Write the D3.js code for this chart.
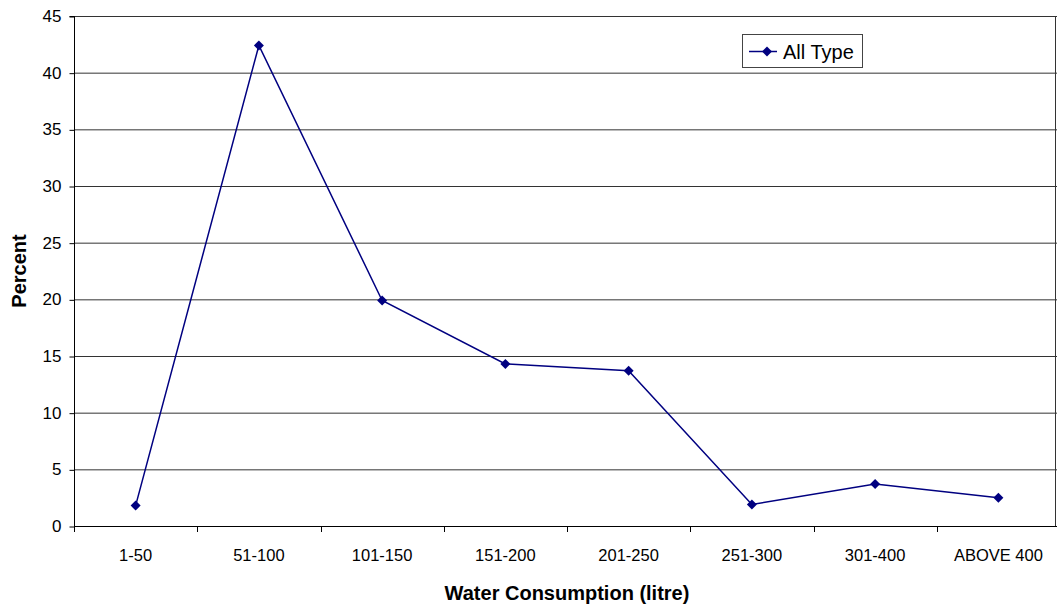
<!DOCTYPE html>
<html>
<head>
<meta charset="utf-8">
<script src="https://cdn.jsdelivr.net/npm/d3@7"></script>
<style>
  body { margin: 0; background: #fff; }
  svg { display: block; font-family: "Liberation Sans", Arial, sans-serif; }
</style>
</head>
<body>
<div id="chart"></div>
<script>
// --- data ---
const categories = ["1-50", "51-100", "101-150", "151-200", "201-250", "251-300", "301-400", "ABOVE 400"];
const percentValues = [1.8, 42.4, 19.9, 14.3, 13.7, 1.9, 3.7, 2.5];
const yTicks = [0, 5, 10, 15, 20, 25, 30, 35, 40, 45];
const seriesName = "All Type";

// --- layout ---
const W = 1057, H = 613;
const M = { top: 16, right: -3, bottom: 87, left: 74 };
const innerW = W - M.left - M.right;
const innerH = H - M.top - M.bottom;
const LINE_COLOR = "#000080";

const svg = d3.select("#chart").append("svg")
    .attr("width", W)
    .attr("height", H);

const g = svg.append("g")
    .attr("transform", `translate(${M.left},${M.top})`);

const x = d3.scaleBand()
    .domain(categories)
    .range([0, innerW])
    .padding(0);

const y = d3.scaleLinear()
    .domain([0, 45])
    .range([innerH, 0]);

// gridlines
g.selectAll("line.grid")
    .data(yTicks.filter(d => d > 0))
    .join("line")
    .attr("class", "grid")
    .attr("x1", 0)
    .attr("x2", innerW)
    .attr("y1", d => y(d) + 0.5)
    .attr("y2", d => y(d) + 0.5)
    .attr("stroke", "#333")
    .attr("stroke-width", 1);

// right border of the plot area (visible at image edge)
g.append("line")
    .attr("x1", W - M.left - 1.5)
    .attr("x2", W - M.left - 1.5)
    .attr("y1", y(45))
    .attr("y2", innerH)
    .attr("stroke", "#333");

// y axis
const yAxis = d3.axisLeft(y)
    .tickValues(yTicks)
    .tickSize(5)
    .tickPadding(8)
    .tickFormat(d3.format("d"));

const yG = g.append("g")
    .attr("transform", "translate(0.5,0)")
    .call(yAxis);
yG.select(".domain").attr("stroke", "#000").attr("d", `M-5,${y(45) + 0.5}H0V${innerH + 0.5}`);
yG.selectAll(".tick line").attr("stroke", "#000").attr("transform", "translate(0,0.5)");
yG.selectAll("text")
    .style("font-size", "17px")
    .attr("fill", "#000");

// x axis with ticks on band boundaries
const xG = g.append("g")
    .attr("transform", `translate(0,${innerH + 0.5})`)
    .call(d3.axisBottom(x).tickSize(0).tickPadding(23));
xG.select(".domain").attr("stroke", "#000").attr("d", `M0,0H${innerW}`);
xG.selectAll("text")
    .style("font-size", "16.5px")
    .attr("fill", "#000");

g.selectAll("line.xtick")
    .data(categories)
    .join("line")
    .attr("class", "xtick")
    .attr("x1", d => Math.round(x(d)) + 0.5)
    .attr("x2", d => Math.round(x(d)) + 0.5)
    .attr("y1", innerH)
    .attr("y2", innerH + 6)
    .attr("stroke", "#000");

// axis titles
g.append("text")
    .attr("text-anchor", "middle")
    .attr("x", innerW / 2)
    .attr("y", innerH + 74)
    .style("font-size", "20px")
    .style("font-weight", "bold")
    .text("Water Consumption (litre)");

g.append("text")
    .attr("text-anchor", "middle")
    .attr("transform", `translate(${-M.left + 26},${innerH / 2}) rotate(-90)`)
    .style("font-size", "20px")
    .style("font-weight", "bold")
    .text("Percent");

// series
const points = categories.map((c, i) => ({ cat: c, value: percentValues[i] }));

const line = d3.line()
    .x(d => x(d.cat) + x.bandwidth() / 2)
    .y(d => y(d.value));

g.append("path")
    .datum(points)
    .attr("fill", "none")
    .attr("stroke", LINE_COLOR)
    .attr("stroke-width", 1.5)
    .attr("d", line);

const marker = d3.symbol().type(d3.symbolSquare).size(50);

g.selectAll("path.marker")
    .data(points)
    .join("path")
    .attr("class", "marker")
    .attr("transform", d => `translate(${x(d.cat) + x.bandwidth() / 2},${y(d.value)}) rotate(45)`)
    .attr("d", marker)
    .attr("fill", LINE_COLOR);

// legend
const legend = svg.append("g").attr("transform", "translate(742,34)");
legend.append("rect")
    .attr("x", 0.5)
    .attr("y", 0.5)
    .attr("width", 120)
    .attr("height", 33)
    .attr("fill", "#fff")
    .attr("stroke", "#444");
legend.append("line")
    .attr("x1", 7)
    .attr("x2", 35)
    .attr("y1", 17.5)
    .attr("y2", 17.5)
    .attr("stroke", LINE_COLOR)
    .attr("stroke-width", 1.5);
legend.append("path")
    .attr("transform", "translate(25,17.5) rotate(45)")
    .attr("d", marker)
    .attr("fill", LINE_COLOR);
legend.append("text")
    .attr("x", 41)
    .attr("y", 25)
    .style("font-size", "20px")
    .text(seriesName);
</script>
</body>
</html>
